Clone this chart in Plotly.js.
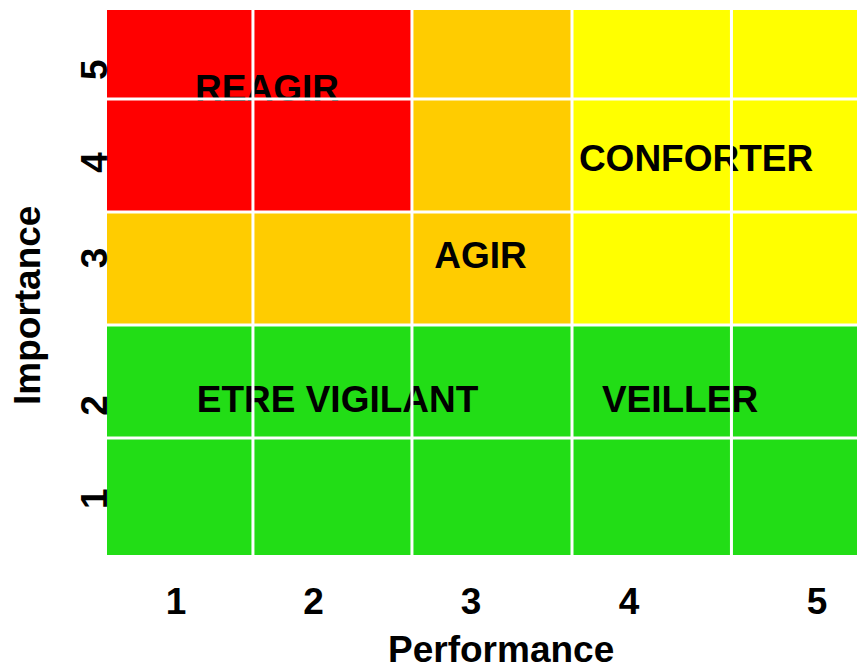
<!DOCTYPE html>
<html>
<head>
<meta charset="utf-8">
<script src="https://cdn.plot.ly/plotly-3.0.1.min.js"></script>
<style>html,body{margin:0;padding:0;background:#fff;}#chart{width:857px;height:669px;}</style>
</head>
<body>
<div id="chart"></div>
<script>
// Cell edges (axis units) along Performance (x) and Importance (y)
const perfEdges = [0, 0.973, 2.033, 3.1, 4.163, 5];
const impEdges = [0, 1.073, 2.11, 3.147, 4.183, 5];
// Tick labels and their positions
const perfTickLabels = ['1', '2', '3', '4', '5'];
const perfTickPos = [0.46, 1.377, 2.427, 3.48, 4.733];
const impTickLabels = ['1', '2', '3', '4', '5'];
const impTickPos = [0.465, 1.32, 2.675, 3.55, 4.402];
// Zone codes per row (bottom row first): 0 = green, 1 = orange, 2 = yellow, 3 = red
const zoneRow1 = [0, 0, 0, 0, 0];
const zoneRow2 = [0, 0, 0, 0, 0];
const zoneRow3 = [1, 1, 1, 2, 2];
const zoneRow4 = [3, 3, 1, 2, 2];
const zoneRow5 = [3, 3, 1, 2, 2];
// Zone labels
const zoneLabels = ['REAGIR', 'CONFORTER', 'AGIR', 'ETRE VIGILANT', 'VEILLER'];
const zoneLabelX = [1.067, 3.927, 2.49, 1.537, 3.82];
const zoneLabelY = [4.25, 3.61, 2.715, 1.395, 1.395];

const GREEN = '#22DD16', ORANGE = '#FFCC00', YELLOW = '#FFFF00', RED = '#FF0000';
const colorscale = [
  [0, GREEN], [0.1667, GREEN], [0.1667, ORANGE], [0.5, ORANGE],
  [0.5, YELLOW], [0.8333, YELLOW], [0.8333, RED], [1, RED]
];

const xMin = perfEdges[0], xMax = perfEdges[perfEdges.length - 1];
const yMin = impEdges[0], yMax = impEdges[impEdges.length - 1];

// White grid lines built from the interior cell edges
const gx = [], gy = [];
perfEdges.slice(1, -1).forEach(v => { gx.push(v, v, null); gy.push(yMin, yMax, null); });
impEdges.slice(1, -1).forEach(v => { gx.push(xMin, xMax, null); gy.push(v, v, null); });

const font = 'Liberation Sans, Arial, Helvetica, sans-serif';
const FS = 37;
const boldFont = {family: font, size: FS, color: '#000', weight: 'bold'};

const traces = [
  {
    type: 'heatmap',
    x: perfEdges,
    y: impEdges,
    z: [zoneRow1, zoneRow2, zoneRow3, zoneRow4, zoneRow5],
    zmin: 0, zmax: 3,
    colorscale: colorscale,
    showscale: false,
    hoverinfo: 'skip'
  },
  {
    type: 'scatter',
    mode: 'text',
    x: zoneLabelX,
    y: zoneLabelY,
    text: zoneLabels,
    textposition: 'middle center',
    textfont: boldFont,
    cliponaxis: false,
    hoverinfo: 'skip'
  },
  {
    type: 'scatter',
    mode: 'lines',
    x: gx,
    y: gy,
    line: {color: '#FFFFFF', width: 3},
    hoverinfo: 'skip'
  }
];

const layout = {
  width: 857,
  height: 669,
  margin: {l: 107, r: 0, t: 10, b: 114},
  paper_bgcolor: '#FFFFFF',
  plot_bgcolor: '#FFFFFF',
  showlegend: false,
  hovermode: false,
  font: {family: font, size: FS, color: '#000'},
  xaxis: {
    range: [xMin, xMax],
    tickvals: perfTickPos,
    ticktext: perfTickLabels,
    ticks: '',
    showgrid: false,
    zeroline: false,
    showline: false,
    fixedrange: true,
    ticklabelstandoff: 21,
    tickfont: boldFont
  },
  yaxis: {
    range: [yMin, yMax],
    tickvals: impTickPos,
    ticktext: impTickLabels,
    tickangle: -90,
    ticks: '',
    showgrid: false,
    zeroline: false,
    showline: false,
    fixedrange: true,
    ticklabelstandoff: -8,
    tickfont: boldFont
  },
  annotations: [
    {
      text: 'Performance', xref: 'paper', yref: 'paper',
      x: 0.5253, y: -0.174, xanchor: 'center', yanchor: 'middle',
      showarrow: false, font: boldFont
    },
    {
      text: 'Importance', xref: 'paper', yref: 'paper',
      x: -0.1067, y: 0.4587, xanchor: 'center', yanchor: 'middle',
      textangle: -90, showarrow: false, font: boldFont
    }
  ]
};

Plotly.newPlot('chart', traces, layout, {displayModeBar: false, staticPlot: true});
</script>
</body>
</html>
